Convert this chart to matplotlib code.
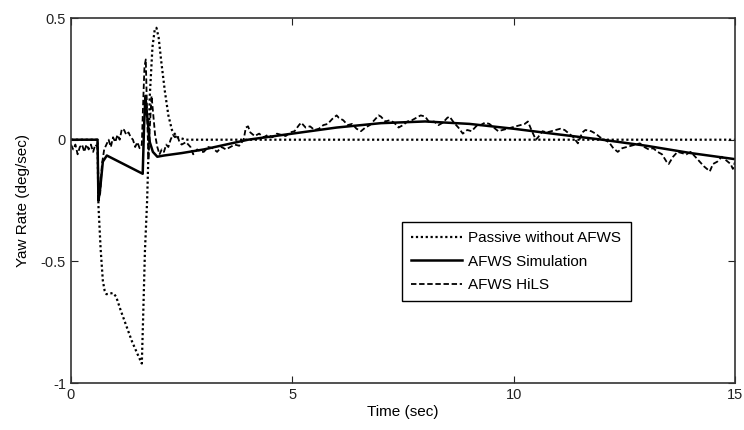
import matplotlib
matplotlib.use("Agg")
import matplotlib.pyplot as plt

# yaw rate response
passive_t = [0, 0.60, 0.62, 0.67, 0.72, 0.76, 0.80, 0.95, 1.02, 1.12, 1.22, 1.38, 1.50, 1.60,
             1.63, 1.67, 1.72, 1.74, 1.78, 1.84, 1.89, 1.93, 1.98, 2.04, 2.12, 2.20, 2.28, 2.40, 2.60, 15]
passive_y = [0, 0, -0.27, -0.45, -0.58, -0.62, -0.635, -0.63, -0.645, -0.70, -0.75, -0.83, -0.88, -0.92,
             -0.73, -0.46, -0.25, -0.12, 0.18, 0.38, 0.45, 0.46, 0.42, 0.32, 0.20, 0.10, 0.04, 0.01, 0.0, 0]

sim_t = [0, 0.60, 0.62, 0.66, 0.72, 0.81, 1.62, 1.65, 1.68, 1.72, 1.78, 1.85, 1.95, 2.1,
         2.5, 3, 3.5, 4, 5, 6, 7, 8, 9, 10, 11, 12, 13, 14, 15]
sim_y = [0, 0, -0.25, -0.20, -0.09, -0.065, -0.14, 0.05, 0.18, 0.10, -0.01, -0.05, -0.07, -0.065,
         -0.055, -0.04, -0.02, 0.0, 0.025, 0.05, 0.068, 0.075, 0.065, 0.045, 0.022, 0.0, -0.025, -0.055, -0.08]

hils_t = [0.00, 0.05, 0.10, 0.15, 0.20, 0.25, 0.30, 0.35, 0.40, 0.45, 0.50, 0.55, 0.60, 0.63, 0.66,
          0.70, 0.75, 0.80, 0.85, 0.90, 0.95, 1.00, 1.05, 1.10, 1.15, 1.20, 1.25, 1.30, 1.35, 1.40,
          1.45, 1.50, 1.55, 1.60, 1.63, 1.66, 1.69, 1.72, 1.75, 1.78, 1.82, 1.86, 1.90, 1.95, 2.00,
          2.05, 2.10, 2.15, 2.20, 2.25, 2.30, 2.35, 2.40, 2.45, 2.50, 2.60, 2.70, 2.76, 2.85, 2.95,
          3.00, 3.10, 3.20, 3.30, 3.40, 3.50, 3.60, 3.70, 3.80, 3.90, 3.95, 4.00, 4.05, 4.15, 4.25,
          4.35, 4.45, 4.55, 4.65, 4.75, 4.85, 4.95, 5.05, 5.15, 5.20, 5.30, 5.40, 5.50, 5.60, 5.70,
          5.80, 5.90, 6.00, 6.05, 6.15, 6.25, 6.35, 6.45, 6.55, 6.65, 6.75, 6.85, 6.95, 7.00, 7.10,
          7.20, 7.30, 7.40, 7.50, 7.60, 7.70, 7.80, 7.90, 8.00, 8.10, 8.20, 8.30, 8.40, 8.50, 8.55,
          8.65, 8.75, 8.85, 8.95, 9.05, 9.15, 9.25, 9.35, 9.45, 9.55, 9.65, 9.75, 9.85, 9.95, 10.05,
          10.15, 10.25, 10.32, 10.40, 10.50, 10.55, 10.65, 10.75, 10.85, 10.95, 11.05, 11.15, 11.25, 11.35,
          11.45, 11.55, 11.62, 11.75, 11.85, 11.95, 12.05, 12.15, 12.25, 12.35, 12.45, 12.55, 12.65, 12.75,
          12.85, 12.95, 13.05, 13.15, 13.25, 13.35, 13.45, 13.50, 13.60, 13.70, 13.80, 13.90, 14.00, 14.10,
          14.20, 14.30, 14.43, 14.50, 14.60, 14.70, 14.80, 14.90, 14.95, 15.00]
hils_y = [-0.02, -0.04, -0.02, -0.06, -0.03, -0.02, -0.05, -0.02, -0.04, -0.02, -0.05, -0.02, -0.03, -0.24, -0.22,
          -0.10, -0.04, -0.02, 0.00, -0.03, 0.01, -0.01, 0.02, 0.00, 0.045, 0.04, 0.02, 0.03, 0.01, 0.00,
          -0.03, -0.01, -0.035, -0.02, 0.15, 0.30, 0.33, 0.10, -0.08, 0.05, 0.18, 0.10, 0.02, -0.03, -0.06,
          -0.04, -0.05, -0.02, -0.03, 0.00, 0.02, 0.01, 0.02, -0.01, -0.02, -0.01, -0.03, -0.06, -0.04, -0.05,
          -0.05, -0.03, -0.035, -0.05, -0.03, -0.04, -0.03, -0.02, -0.025, 0.00, 0.05, 0.055, 0.03, 0.015, 0.025,
          0.01, 0.02, 0.01, 0.025, 0.02, 0.015, 0.03, 0.035, 0.06, 0.07, 0.05, 0.055, 0.04, 0.045, 0.06,
          0.065, 0.085, 0.10, 0.09, 0.08, 0.06, 0.065, 0.045, 0.035, 0.05, 0.06, 0.08, 0.10, 0.095, 0.075,
          0.08, 0.07, 0.05, 0.06, 0.075, 0.08, 0.09, 0.10, 0.095, 0.07, 0.075, 0.06, 0.07, 0.09, 0.095,
          0.07, 0.05, 0.025, 0.04, 0.035, 0.055, 0.06, 0.07, 0.065, 0.05, 0.035, 0.04, 0.045, 0.05, 0.055,
          0.06, 0.065, 0.075, 0.04, 0.0, 0.01, 0.035, 0.03, 0.035, 0.04, 0.045, 0.04, 0.025, 0.01,
          -0.015, 0.03, 0.04, 0.035, 0.025, 0.01, 0.0, -0.01, -0.035, -0.05, -0.035, -0.03, -0.025, -0.02,
          -0.015, -0.03, -0.04, -0.035, -0.05, -0.06, -0.09, -0.10, -0.07, -0.05, -0.055, -0.06, -0.05, -0.07,
          -0.09, -0.11, -0.13, -0.10, -0.09, -0.07, -0.085, -0.10, -0.12, -0.09]

x_ticks = [0, 5, 10, 15]
y_ticks = [-1, -0.5, 0, 0.5]

plt.rcParams['font.family'] = ['Liberation Sans', 'DejaVu Sans']

fig = plt.figure(figsize=(7.44, 4.30), dpi=100)
ax = fig.add_axes([0.0954, 0.1093, 0.8926, 0.8487])

ax.plot(passive_t, passive_y, color='black', linestyle=(0, (1, 1.2)), linewidth=1.6,
        label='Passive without AFWS')
ax.plot(sim_t, sim_y, color='black', linestyle='-', linewidth=1.8, label='AFWS Simulation')
ax.plot(hils_t, hils_y, color='black', linestyle=(0, (3, 1.5)), linewidth=1.3, label='AFWS HiLS')

ax.set_xlim(0, 15)
ax.set_ylim(-1, 0.5)
ax.set_xticks(x_ticks)
ax.set_yticks(y_ticks)
ax.set_xticklabels(['0', '5', '10', '15'])
ax.set_yticklabels(['-1', '-0.5', '0', '0.5'])
ax.tick_params(direction='in', length=5, top=True, right=True, labelsize=10.5, colors='#222222')
for sp in ax.spines.values():
    sp.set_color('#333333')
    sp.set_linewidth(1.2)

ax.set_xlabel('Time (sec)', fontsize=11, labelpad=2)
ax.set_ylabel('Yaw Rate (deg/sec)', fontsize=11, labelpad=8)

leg = ax.legend(loc='upper left', bbox_to_anchor=(0.4985, 0.441), fontsize=11, frameon=True,
                fancybox=False, edgecolor='black', framealpha=1, handlelength=3.3,
                handletextpad=0.45, labelspacing=0.62, borderpad=0.6, borderaxespad=0)
leg.get_frame().set_linewidth(1.0)

fig.savefig('out.png', dpi=100)
